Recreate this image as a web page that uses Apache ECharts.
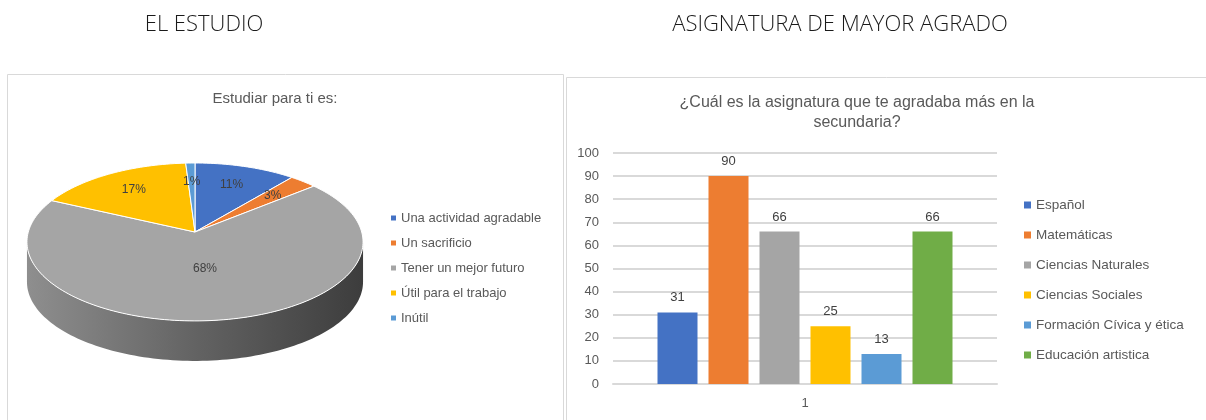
<!DOCTYPE html>
<html>
<head>
<meta charset="utf-8">
<title>El estudio / Asignatura de mayor agrado</title>
<script src="https://cdn.jsdelivr.net/npm/echarts@6/dist/echarts.min.js"></script>
<style>
  html, body { margin: 0; padding: 0; background: #fff; }
  #main { width: 1206px; height: 420px; }
</style>
</head>
<body>
<div id="main"></div>
<script>
// --- data ---
const pieCategories = ["Una actividad agradable", "Un sacrificio", "Tener un mejor futuro", "Útil para el trabajo", "Inútil"];
const pieValues = [11, 3, 68, 17, 1];

const barCategories = ["1"];
const subjects = ["Español", "Matemáticas", "Ciencias Naturales", "Ciencias Sociales", "Formación Cívica y ética", "Educación artistica"];
const subjectValues = [31, 90, 66, 25, 13, 66];
const yTicks = [0, 10, 20, 30, 40, 50, 60, 70, 80, 90, 100];

// --- styling ---
const pieColors = ["#4472C4", "#ED7D31", "#A5A5A5", "#FFC000", "#5B9BD5"];
const barColors = ["#4472C4", "#ED7D31", "#A5A5A5", "#FFC000", "#5B9BD5", "#70AD47"];
const FONT = "'Liberation Sans', Arial, sans-serif";

// tilted pie: circle seen in perspective (k = perspective strength)
const PIE = { cx: 195, cy: 232, rx: 166.7, ry: 77.7, k: 0.126, depth: 40 };

const chart = echarts.init(document.getElementById("main"));

const pieTotal = pieValues.reduce((a, b) => a + b, 0);
const pieStarts = [];
let acc = 0;
pieValues.forEach(v => { pieStarts.push(acc); acc += v; });

function shade(hex, f) {
  const c = echarts.color.parse(hex);
  return echarts.color.stringify([Math.round(c[0] * f), Math.round(c[1] * f), Math.round(c[2] * f), 1], "rgb");
}

// angle t clockwise from 12 o'clock, r = fraction of radius
function project(t, r, dy) {
  const u = r * Math.sin(t), w = r * Math.cos(t);
  const s = 1 / (1 + PIE.k * w);
  return [PIE.cx + PIE.rx * u * s, PIE.cy - PIE.ry * w * s + (dy || 0)];
}
function arcPoints(a0, a1, dy) {
  const n = Math.max(2, Math.ceil((a1 - a0) / (Math.PI / 120)));
  const pts = [];
  for (let j = 0; j <= n; j++) pts.push(project(a0 + (a1 - a0) * j / n, 1, dy));
  return pts;
}

function sliceRenderer(i) {
  return function (params, api) {
    const v = api.value(0);
    const a0 = pieStarts[i] / pieTotal * Math.PI * 2;
    const a1 = (pieStarts[i] + v) / pieTotal * Math.PI * 2;
    const color = pieColors[i];
    const children = [];

    // visible side wall (between the silhouette points)
    const edge = Math.acos(-PIE.k);
    const s0 = Math.max(a0, edge);
    const s1 = Math.min(a1, Math.PI * 2 - edge);
    if (s1 > s0) {
      const top = arcPoints(s0, s1, 0);
      const bottom = arcPoints(s0, s1, PIE.depth).reverse();
      children.push({
        type: "polygon",
        shape: { points: top.concat(bottom) },
        style: {
          fill: {
            type: "linear", global: true,
            x: PIE.cx - PIE.rx, y: 0, x2: PIE.cx + PIE.rx, y2: 0,
            colorStops: [
              { offset: 0, color: shade(color, 0.86) },
              { offset: 0.5, color: shade(color, 0.6) },
              { offset: 1, color: shade(color, 0.37) }
            ]
          }
        }
      });
    }

    // top face
    children.push({
      type: "polygon",
      shape: { points: [project(0, 0, 0)].concat(arcPoints(a0, a1, 0)) },
      style: { fill: color, stroke: "#ffffff", lineWidth: 1 }
    });

    // percentage label
    const mid = (a0 + a1) / 2;
    const p = project(mid, v / pieTotal > 0.5 ? 0.45 : 0.7, 0);
    children.push({
      type: "text",
      x: p[0],
      y: p[1],
      style: {
        text: Math.round(v / pieTotal * 100) + "%",
        fill: "#404040",
        font: "12px " + FONT,
        align: "center",
        verticalAlign: "middle"
      }
    });
    return { type: "group", children: children };
  };
}

const pieSeries = pieCategories.map((name, i) => ({
  name: name,
  type: "custom",
  coordinateSystem: "none",
  silent: true,
  itemStyle: { color: pieColors[i] },
  renderItem: sliceRenderer(i),
  data: [pieValues[i]]
}));

const barSeries = subjects.map((name, i) => ({
  name: name,
  type: "bar",
  barWidth: 40,
  barGap: "27.5%",
  itemStyle: { color: barColors[i] },
  label: {
    show: true,
    position: "top",
    distance: 8,
    color: "#404040",
    fontSize: 13,
    fontFamily: FONT
  },
  data: [subjectValues[i]]
}));

const option = {
  animation: false,
  textStyle: { fontFamily: FONT },
  graphic: [
    { type: "rect", shape: { x: 7.5, y: 74.5, width: 556, height: 400 },
      style: { fill: "none", stroke: "#d9d9d9", lineWidth: 1 }, silent: true },
    { type: "rect", shape: { x: 566.5, y: 77.5, width: 700, height: 400 },
      style: { fill: "none", stroke: "#d9d9d9", lineWidth: 1 }, silent: true },
    { type: "text", x: 204, y: 25,
      style: { text: "EL ESTUDIO", fill: "#1a1a1a", font: "300 22px 'Open Sans', sans-serif",
               align: "center", verticalAlign: "middle" } },
    { type: "text", x: 840, y: 25,
      style: { text: "ASIGNATURA DE MAYOR AGRADO", fill: "#1a1a1a", font: "300 22px 'Open Sans', sans-serif",
               align: "center", verticalAlign: "middle" } },
    { type: "text", x: 275, y: 99,
      style: { text: "Estudiar para ti es:", fill: "#595959", font: "15px " + FONT,
               align: "center", verticalAlign: "middle" } },
    { type: "text", x: 857, y: 113,
      style: { text: "¿Cuál es la asignatura que te agradaba más en la\nsecundaria?", fill: "#595959",
               font: "16px " + FONT, lineHeight: 20, align: "center", verticalAlign: "middle" } }
  ],
  legend: [
    {
      data: pieCategories,
      orient: "vertical",
      left: 386,
      top: 206,
      icon: "rect",
      itemWidth: 5,
      itemHeight: 5,
      itemGap: 11,
      selectedMode: false,
      textStyle: { color: "#595959", fontSize: 13, lineHeight: 14, fontFamily: FONT }
    },
    {
      data: subjects,
      orient: "vertical",
      left: 1019,
      top: 193,
      icon: "rect",
      itemWidth: 7,
      itemHeight: 7,
      itemGap: 16,
      selectedMode: false,
      textStyle: { color: "#595959", fontSize: 13.5, lineHeight: 14, fontFamily: FONT }
    }
  ],
  grid: { left: 613, right: 209, top: 153, bottom: 36 },
  xAxis: {
    type: "category",
    data: barCategories,
    axisLine: { show: true, lineStyle: { color: "#d9d9d9", width: 2 } },
    axisTick: { show: false },
    axisLabel: { color: "#595959", fontSize: 13, margin: 13 }
  },
  yAxis: {
    type: "value",
    min: yTicks[0],
    max: yTicks[yTicks.length - 1],
    interval: yTicks[1] - yTicks[0],
    axisLine: { show: false },
    axisTick: { show: false },
    axisLabel: { color: "#595959", fontSize: 13, margin: 14 },
    splitLine: { lineStyle: { color: "#d9d9d9", width: 2 } }
  },
  series: pieSeries.concat(barSeries)
};

chart.setOption(option);
</script>
</body>
</html>
